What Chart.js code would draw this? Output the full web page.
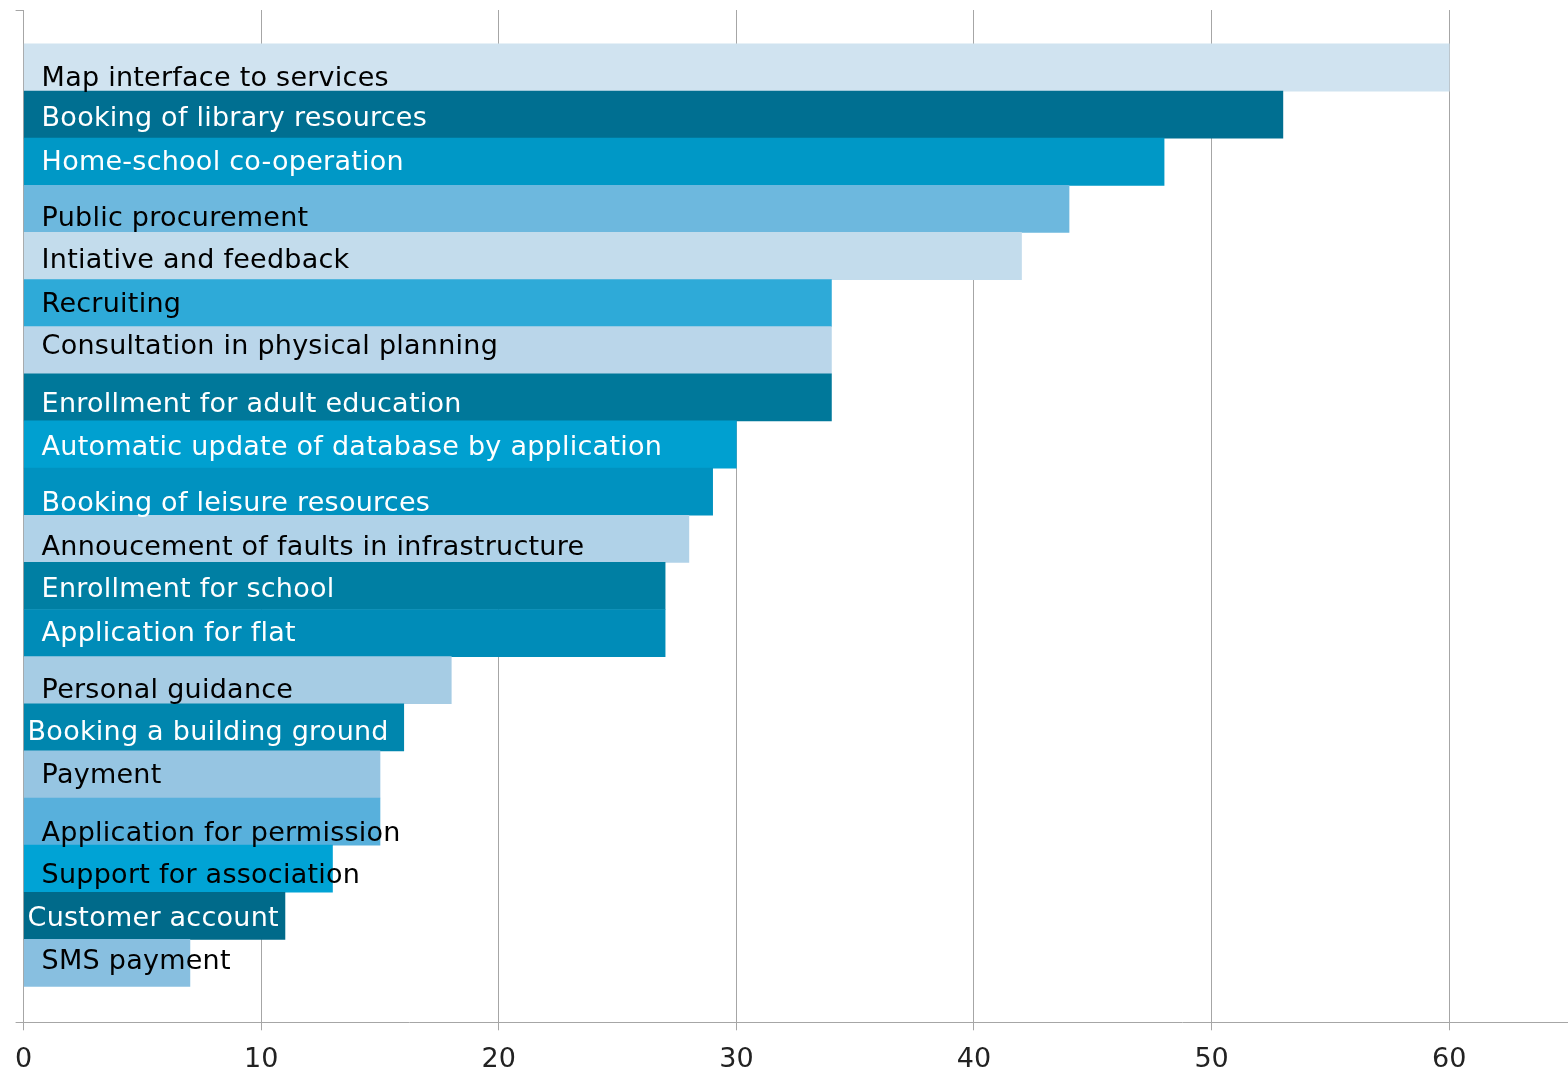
<!DOCTYPE html>
<html>
<head>
<meta charset="utf-8">
<script src="https://cdn.jsdelivr.net/npm/chart.js@4"></script>
<style>
  html, body { margin: 0; padding: 0; background: #fff; }
  #wrap { width: 1568px; height: 1072px; position: relative; }
</style>
</head>
<body>
<div id="wrap"><canvas id="Chart"></canvas></div>
<script>
// services, top to bottom
const services = [
    'Map interface to services',
    'Booking of library resources',
    'Home-school co-operation',
    'Public procurement',
    'Intiative and feedback',
    'Recruiting',
    'Consultation in physical planning',
    'Enrollment for adult education',
    'Automatic update of database by application',
    'Booking of leisure resources',
    'Annoucement of faults in infrastructure',
    'Enrollment for school',
    'Application for flat',
    'Personal guidance',
    'Booking a building ground',
    'Payment',
    'Application for permission',
    'Support for association',
    'Customer account',
    'SMS payment'
];
const counts = [60, 53, 48, 44, 42, 34, 34, 34, 30, 29, 28, 27, 27, 18, 16, 15, 15, 13, 11, 7];
const xTicks = [0, 10, 20, 30, 40, 50, 60];

// bar colours + label colours
const barColors = [
    '#d0e3f0', '#006f91', '#0098c6', '#6db8de', '#c3dcec',
    '#2eaad8', '#bad6ea', '#00789a', '#00a0d0', '#0092c0',
    '#b0d2e8', '#007fa3', '#008cb8', '#a6cce4', '#0086ae',
    '#96c5e2', '#58b0dc', '#00a3d5', '#006a8a', '#88bfe0'
];
const textColors = [
    '#000', '#fff', '#fff', '#000', '#000',
    '#000', '#000', '#fff', '#fff', '#fff',
    '#000', '#fff', '#fff', '#000', '#fff',
    '#000', '#000', '#000', '#fff', '#000'
];
// label placement tweaks (px)
const labelDx = [18, 18, 18, 18, 18, 18, 18, 18, 18, 18, 18, 18, 18, 18, 4, 18, 18, 18, 4, 18];
const labelDy = [11, 4, 1, 10, 5, 2, -3, 8, 3, 12, 9, 4, 1, 11, 6, 2, 12, 7, 3, -1];

const barLabels = {
    id: 'barLabels',
    afterDatasetsDraw(chart) {
        const ctx = chart.ctx;
        const xs = chart.scales.x, ys = chart.scales.y;
        ctx.save();
        ctx.font = '27px "DejaVu Sans"';
        ctx.letterSpacing = '0.25px';
        ctx.textBaseline = 'middle';
        ctx.textAlign = 'left';
        services.forEach(function(name, i) {
            ctx.fillStyle = textColors[i];
            ctx.fillText(name, xs.getPixelForValue(0) + labelDx[i], ys.getPixelForValue(i) + labelDy[i]);
        });
        ctx.restore();
    }
};

const chart = document.getElementById('Chart').getContext('2d');
const myChart = new Chart(chart, {
    type: 'bar',
    data: {
        labels: services,
        datasets: [{
            data: counts.map(function(v, i) { return { x: v, y: i }; }),
            backgroundColor: barColors,
            borderWidth: 0,
            barPercentage: 1,
            categoryPercentage: 1
        }]
    },
    options: {
        indexAxis: 'y',
        responsive: true,
        maintainAspectRatio: false,
        animation: false,
        layout: { padding: { top: 10, left: 10, right: 0, bottom: -18 } },
        plugins: { legend: { display: false }, tooltip: { enabled: false } },
        scales: {
            x: {
                type: 'linear',
                min: 0,
                max: 65,
                afterBuildTicks: function(axis) {
                    axis.ticks = xTicks.map(function(v) { return { value: v }; });
                },
                grid: { color: '#a6a6a6', lineWidth: 1, tickLength: 8 },
                border: { color: '#a6a6a6', width: 1 },
                ticks: {
                    color: '#222',
                    font: { family: 'DejaVu Sans', size: 27, lineHeight: 1.1 },
                    padding: 15,
                    maxRotation: 0
                }
            },
            y: {
                type: 'linear',
                reverse: true,
                offset: false,
                min: -1.22,
                max: 20.26,
                afterBuildTicks: function(axis) {
                    axis.ticks = [{ value: -1.22 }, { value: 20.26 }];
                },
                grid: { drawOnChartArea: false, offset: false, color: '#a6a6a6', tickLength: 8 },
                border: { color: '#a6a6a6', width: 1 },
                ticks: { display: false }
            }
        }
    },
    plugins: [barLabels]
});
</script>
</body>
</html>
